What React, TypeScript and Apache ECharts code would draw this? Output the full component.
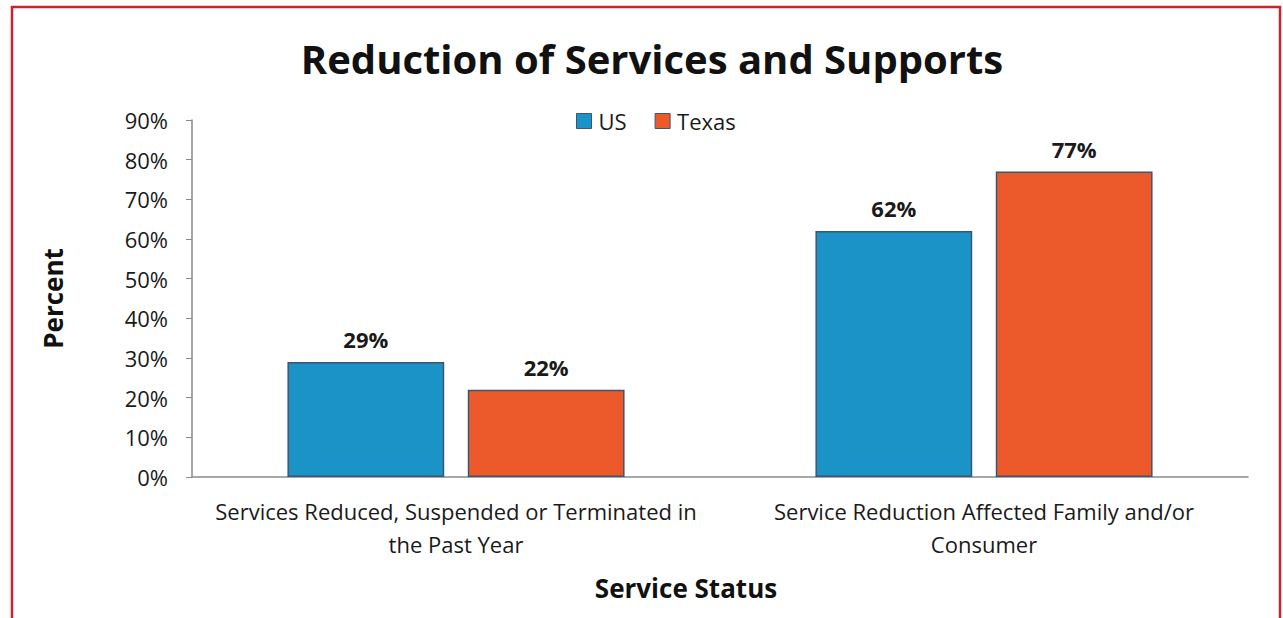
import React, { useEffect, useRef } from "react";
import * as echarts from "echarts";

const categories = [
  "Services Reduced, Suspended or Terminated in\nthe Past Year",
  "Service Reduction Affected Family and/or\nConsumer",
];
const usValues = [29, 62];
const texasValues = [22, 77];
const seriesNames = ["US", "Texas"];

export default function App() {
  const ref = useRef<HTMLDivElement>(null);
  useEffect(() => {
    if (!ref.current) return;
    const chart = echarts.init(ref.current, null, { renderer: "svg" });
    const font = "'Open Sans', 'Liberation Sans', sans-serif";
    const barStyle = (color: string) => ({
      color,
      borderColor: "#3b5670",
      borderWidth: 1.5,
    });
    const label = {
      show: true,
      position: "top",
      distance: 12,
      formatter: "{c}%",
      fontFamily: font,
      fontWeight: "bold",
      fontSize: 22,
      color: "#1a1a1a",
    };
    chart.setOption({
      animation: false,
      backgroundColor: "#ffffff",
      title: {
        text: "Reduction of Services and Supports",
        left: 647,
        textAlign: "center",
        top: 33,
        textStyle: {
          fontFamily: font,
          fontWeight: "bold",
          fontSize: 40,
          color: "#111",
        },
      },
      legend: {
        data: seriesNames,
        left: 571,
        top: 105,
        itemWidth: 15,
        itemHeight: 15,
        itemGap: 28,
        icon: "rect",
        itemStyle: { borderColor: "#3b5670", borderWidth: 1 },
        textStyle: { fontFamily: font, fontSize: 22, color: "#1a1a1a", padding: [0, 0, 0, 2] },
      },
      grid: { left: 192, right: 35, top: 120, bottom: 141 },
      xAxis: {
        type: "category",
        data: categories,
        axisLine: { lineStyle: { color: "#8a8a8a", width: 1.5 } },
        axisTick: { show: false },
        axisLabel: {
          fontFamily: font,
          fontSize: 22,
          color: "#1a1a1a",
          lineHeight: 33,
          margin: 17,
          interval: 0,
        },
        name: "Service Status",
        nameLocation: "middle",
        nameGap: 98,
        nameTextStyle: {
          fontFamily: font,
          fontWeight: "bold",
          fontSize: 26,
          color: "#111",
          padding: [0, 68, 0, 0],
        },
      },
      yAxis: {
        type: "value",
        min: 0,
        max: 90,
        interval: 10,
        axisLine: { show: true, lineStyle: { color: "#8a8a8a", width: 1.5 } },
        axisTick: { show: true, length: 6, lineStyle: { color: "#8a8a8a" } },
        splitLine: { show: false },
        axisLabel: {
          formatter: "{value}%",
          fontFamily: font,
          fontSize: 22,
          color: "#1a1a1a",
          margin: 24,
        },
        name: "Percent",
        nameLocation: "middle",
        nameGap: 126,
        nameTextStyle: {
          fontFamily: font,
          fontWeight: "bold",
          fontSize: 26,
          color: "#111",
        },
      },
      series: [
        {
          name: seriesNames[0],
          type: "bar",
          data: usValues,
          barWidth: "29.7%",
          barGap: "15%",
          itemStyle: barStyle("#1b93c7"),
          label,
        },
        {
          name: seriesNames[1],
          type: "bar",
          data: texasValues,
          barWidth: "29.7%",
          itemStyle: barStyle("#ec5a2b"),
          label,
        },
      ],
      graphic: [
        {
          type: "rect",
          shape: { x: 12, y: 7, width: 1268, height: 640 },
          style: { fill: "none", stroke: "#c8232f", lineWidth: 2.5 },
          silent: true,
        },
      ],
    });
    return () => chart.dispose();
  }, []);
  return (
    <div
      ref={ref}
      style={{ position: "fixed", left: 0, top: 0, width: 1283, height: 618 }}
    />
  );
}
